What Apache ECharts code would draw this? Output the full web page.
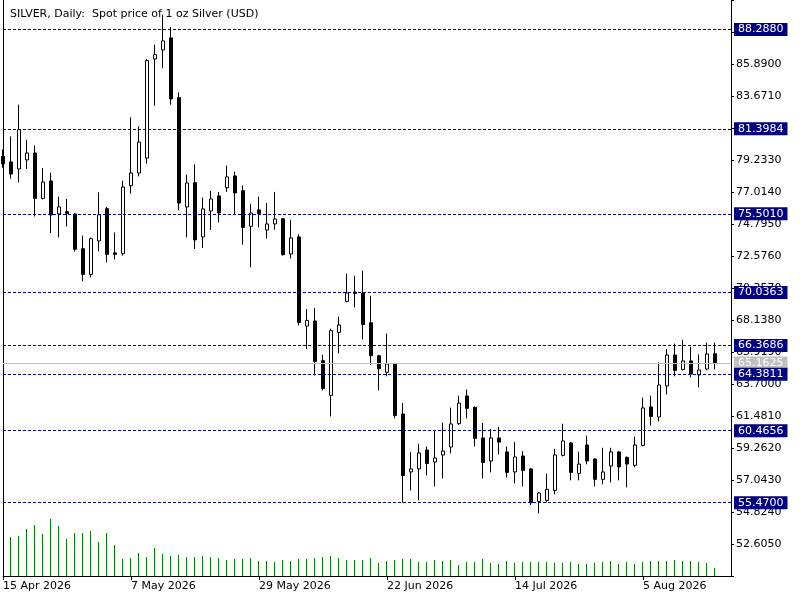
<!DOCTYPE html>
<html>
<head>
<meta charset="utf-8">
<title>SILVER, Daily</title>
<script src="https://cdn.jsdelivr.net/npm/echarts@6/dist/echarts.min.js"></script>
<style>
  html, body { margin: 0; padding: 0; background: #fff; }
  #main { width: 800px; height: 600px; }
</style>
</head>
<body>
<div id="main"></div>
<script>
// daily candles (15 Apr 2026 .. 18 Aug 2026, weekdays)
var opens = [79.48,79.10,78.61,79.24,79.72,76.57,77.78,75.49,75.65,75.49,
  73.08,71.30,73.62,75.86,72.79,72.74,77.45,78.33,79.37,86.24,
  86.86,87.70,83.56,75.98,77.66,73.90,75.70,76.74,77.31,78.13,
  77.11,74.64,75.77,74.38,74.80,75.16,72.72,73.90,67.72,68.07,
  65.32,62.91,67.28,69.43,70.08,70.01,67.95,65.66,64.51,65.11,
  61.62,57.60,57.81,59.12,58.29,58.78,59.33,60.95,62.87,62.08,
  59.96,58.36,59.96,58.99,57.60,58.71,57.81,55.56,55.63,56.32,
  58.75,59.61,57.50,59.47,58.50,57.09,58.01,58.99,58.61,58.06,
  59.44,62.11,61.41,63.56,65.71,64.71,65.30,64.33,64.74,65.80];
var closes = [78.96,78.26,81.34,79.72,76.57,77.71,75.42,75.98,75.53,73.04,
  71.30,73.78,75.44,72.69,72.69,77.36,78.33,80.48,86.12,86.54,
  87.49,83.47,76.25,77.64,73.69,75.84,76.53,75.56,78.06,76.95,
  74.56,75.56,75.51,74.80,75.14,72.67,73.83,67.97,68.11,65.25,
  63.38,67.40,67.79,70.01,69.98,67.83,65.66,64.76,65.09,61.52,
  57.36,57.81,58.92,58.19,58.57,59.05,60.93,62.38,62.01,59.93,
  58.26,59.96,59.67,57.57,58.64,57.71,55.47,56.14,56.39,58.78,
  59.75,57.57,58.15,58.36,57.09,57.60,58.99,57.95,58.15,59.47,
  62.04,61.45,63.63,65.71,64.64,65.30,64.39,64.67,65.78,65.1625];
var lows = [78.70,77.94,77.68,78.61,75.32,76.50,74.17,73.87,74.63,72.88,
  70.82,71.09,72.90,72.13,72.34,72.60,76.90,78.10,78.98,83.00,
  85.59,83.07,75.74,73.87,73.06,73.13,74.38,74.91,77.02,75.49,
  73.36,71.80,74.56,73.78,74.40,72.60,72.41,67.76,66.13,64.30,
  63.26,61.45,65.82,69.36,69.01,66.79,65.04,63.26,64.23,61.32,
  55.47,56.32,55.63,57.36,56.60,57.15,58.89,60.86,61.32,59.37,
  57.15,57.57,58.82,57.22,56.81,56.60,55.31,54.73,55.49,56.05,
  58.68,57.02,57.02,58.13,56.60,56.74,56.88,57.02,56.53,57.92,
  59.37,60.81,61.11,62.98,64.23,64.64,64.16,63.47,64.64,64.71];
var highs = [79.95,80.87,83.07,80.64,80.25,78.68,78.35,76.69,76.53,75.55,
  73.99,73.87,76.99,75.98,74.21,77.80,82.19,81.57,86.24,87.23,
  89.31,88.46,83.92,78.22,78.93,76.62,77.09,77.02,78.84,78.42,
  77.47,76.20,76.69,76.25,77.02,75.21,75.09,74.08,68.90,68.97,
  65.73,67.54,68.37,71.35,71.21,71.56,69.82,65.73,67.19,65.16,
  62.38,58.99,59.56,59.37,60.46,61.02,62.06,62.89,63.31,62.15,
  61.00,60.59,60.74,59.37,59.68,59.05,57.88,56.21,57.48,59.21,
  60.95,59.68,59.01,60.12,58.55,59.28,59.28,59.05,58.68,60.05,
  62.75,62.89,65.20,66.13,66.50,66.77,66.29,65.75,66.57,66.57];
// tick volume (relative)
var volumes = [38,39,40,47,51,42,57,50,37,43,
  43,45,34,43,31,17,18,23,19,28,
  22,20,21,19,19,20,19,18,16,17,
  17,18,15,15,14,16,15,17,17,18,
  19,20,18,16,16,16,18,13,15,16,
  17,17,14,14,16,15,16,11,14,14,
  17,13,12,15,13,14,14,14,14,13,
  13,14,12,12,13,14,15,12,14,12,
  14,15,15,15,16,15,15,14,13,8];
// horizontal levels drawn on the chart
var levels = [88.2880, 81.3984, 75.5010, 70.0363, 66.3686, 64.3811, 60.4656, 55.4700];
var bid = 65.1625;

var months = ['Jan','Feb','Mar','Apr','May','Jun','Jul','Aug','Sep','Oct','Nov','Dec'];
var dates = [];
var d = new Date(Date.UTC(2026, 3, 15));
while (dates.length < 92) {
  var wd = d.getUTCDay();
  if (wd !== 0 && wd !== 6) {
    dates.push(d.getUTCDate() + ' ' + months[d.getUTCMonth()] + ' ' + d.getUTCFullYear());
  }
  d.setUTCDate(d.getUTCDate() + 1);
}

var candleData = opens.map(function (o, i) { return [o, closes[i], lows[i], highs[i]]; });
var volumeData = volumes.map(function (v, i) { return [i, v]; });

var font = 'DejaVu Sans';
var markData = [{
  yAxis: bid,
  lineStyle: { color: '#c0c0c0', type: 'solid', width: 1 },
  label: { backgroundColor: '#c0c0c0' }
}];
levels.forEach(function (v) { markData.push({ yAxis: v }); });

// 1px volume stick, snapped to the pixel grid
function renderVolume(params, api) {
  var top = api.coord([api.value(0), api.value(1)]);
  var base = api.coord([api.value(0), 0]);
  var x = Math.floor(top[0] - 0.5);
  return {
    type: 'rect',
    shape: { x: x, y: top[1], width: 1, height: base[1] - top[1] },
    style: { fill: '#008000' }
  };
}

var myChart = echarts.init(document.getElementById('main'));
var option = {
  animation: false,
  backgroundColor: '#fff',
  textStyle: { fontFamily: font, fontSize: 11, color: '#000' },
  title: {
    text: 'SILVER, Daily:  Spot price of 1 oz Silver (USD)',
    left: 5, top: 4,
    textStyle: { fontFamily: font, fontSize: 11, fontWeight: 'normal', color: '#000' }
  },
  grid: { left: 3, right: 69, top: 0, bottom: 24 },
  xAxis: {
    type: 'category',
    data: dates,
    boundaryGap: false,
    axisLine: { lineStyle: { color: '#000', width: 1 } },
    axisTick: { interval: 15, length: 4, lineStyle: { color: '#000' } },
    axisLabel: { interval: 15, align: 'left', margin: 5, color: '#000', fontFamily: font, fontSize: 11 },
    splitLine: { show: false }
  },
  yAxis: [{
    type: 'value',
    position: 'right',
    min: 50.386,
    max: 90.328,
    interval: 2.219,
    scale: true,
    axisLine: { show: true, lineStyle: { color: '#000', width: 1 } },
    axisTick: { show: true, length: 3, lineStyle: { color: '#000' } },
    axisLabel: {
      margin: 5, color: '#000', fontFamily: font, fontSize: 11,
      formatter: function (v) { return (v < 51 || v > 90) ? '' : v.toFixed(4); }
    },
    splitLine: { show: false }
  }, {
    type: 'value',
    position: 'left',
    min: 0,
    max: 576,
    axisLine: { show: true, onZero: false, lineStyle: { color: '#000', width: 1 } },
    axisTick: { show: false },
    axisLabel: { show: false },
    splitLine: { show: false }
  }],
  series: [{
    name: 'volume',
    type: 'custom',
    yAxisIndex: 1,
    data: volumeData,
    encode: { x: 0, y: 1 },
    renderItem: renderVolume,
    clip: true,
    silent: true
  }, {
    name: 'SILVER',
    type: 'candlestick',
    yAxisIndex: 0,
    data: candleData,
    barWidth: 4,
    clip: true,
    itemStyle: {
      color: '#ffffff',
      color0: '#000000',
      borderColor: '#000000',
      borderColor0: '#000000',
      borderWidth: 1
    },
    markLine: {
      silent: true,
      symbol: 'none',
      precision: 4,
      animation: false,
      lineStyle: { color: '#000080', type: [3, 2], width: 1 },
      label: {
        position: 'end',
        distance: 3,
        color: '#fff',
        backgroundColor: '#000080',
        fontFamily: font,
        fontSize: 11,
        lineHeight: 13,
        padding: [0, 4, 0, 4],
        formatter: function (p) { return Number(p.value).toFixed(4); }
      },
      data: markData
    }
  }]
};
myChart.setOption(option);
</script>
</body>
</html>
